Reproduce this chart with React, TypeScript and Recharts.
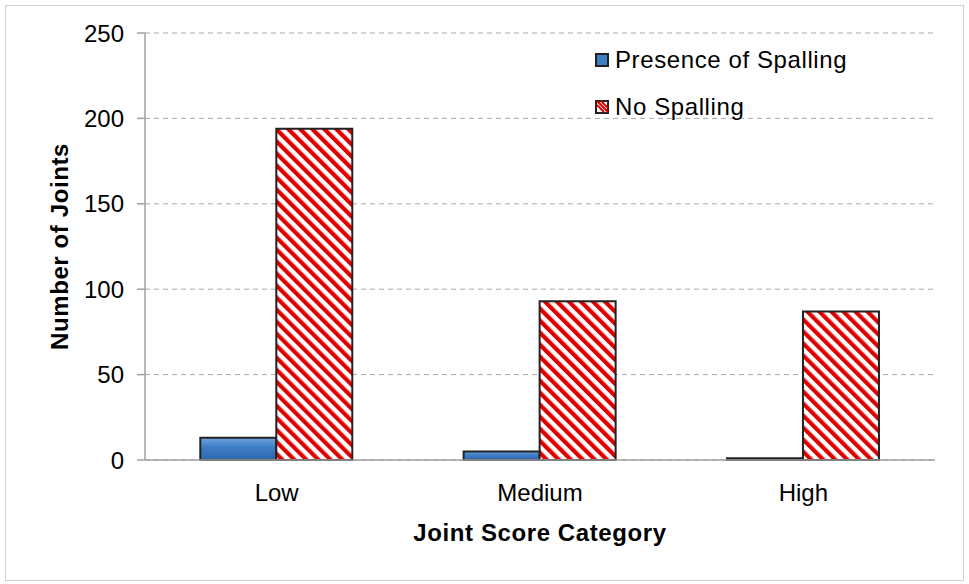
import React from 'react';
import { BarChart, Bar, XAxis, YAxis, CartesianGrid, Label } from 'recharts';

const categories = ['Low', 'Medium', 'High'];
const spalling = [13, 5, 1];
const noSpalling = [194, 93, 87];
const yTicks = [0, 50, 100, 150, 200, 250];

const data = categories.map((c, i) => ({
  name: c,
  spalling: spalling[i],
  noSpalling: noSpalling[i],
}));

const FONT = '"Liberation Sans", Arial, sans-serif';

const LegendBox: React.FC = () => (
  <div
    style={{
      position: 'absolute',
      left: 595,
      top: 36,
      fontFamily: FONT,
      fontSize: 24,
      color: '#000',
      lineHeight: '47px',
    }}
  >
    {[
      { label: 'Presence of Spalling', blue: true },
      { label: 'No Spalling', blue: false },
    ].map((it) => (
      <div key={it.label} style={{ display: 'flex', alignItems: 'center' }}>
        <svg width={14} height={14} style={{ marginRight: 6 }}>
          <rect x={1} y={1} width={12} height={12} fill={it.blue ? '#3f7fc6' : '#fff'} stroke="#222" strokeWidth={2} />
          {!it.blue && (
            <path d="M2 5 L9 12 M2 1 L13 12 M6 1 L13 8" stroke="#d00" strokeWidth={2} />
          )}
        </svg>
        <span style={{ letterSpacing: 0.6 }}>{it.label}</span>
      </div>
    ))}
  </div>
);

export default function App() {
  return (
    <div style={{ position: 'fixed', left: 0, top: 0, width: 969, height: 584, background: '#fff' }}>
      <div
        style={{
          position: 'absolute',
          left: 5,
          top: 5,
          width: 957,
          height: 574,
          border: '1px solid #cfcfcf',
        }}
      />
      <BarChart
        width={969}
        height={584}
        data={data}
        margin={{ top: 33, right: 34, left: 85, bottom: 94 }}
        barGap={0}
        barCategoryGap="21%"
      >
        <defs>
          <linearGradient id="blueGrad" x1="0" y1="0" x2="0" y2="1">
            <stop offset="0%" stopColor="#6fa3e0" />
            <stop offset="40%" stopColor="#3f7fc6" />
            <stop offset="100%" stopColor="#2d66ad" />
          </linearGradient>
          <pattern
            id="stripes"
            patternUnits="userSpaceOnUse"
            width={8.5}
            height={8.5}
            patternTransform="rotate(-45)"
          >
            <rect width={8.5} height={8.5} fill="#fff" />
            <rect width={4.2} height={8.5} fill="#e00000" />
          </pattern>
        </defs>
        <CartesianGrid vertical={false} stroke="#a8a8a8" strokeDasharray="5 4" />
        <XAxis
          dataKey="name"
          axisLine={{ stroke: '#a0a0a0', strokeWidth: 1.5 }}
          tickLine={false}
          tickMargin={18}
          tick={{ fill: '#000', fontSize: 24, fontFamily: FONT }}
        >
          <Label
            value="Joint Score Category"
            position="bottom"
            offset={34}
            style={{ fill: '#000', fontSize: 24, fontWeight: 'bold', fontFamily: FONT, letterSpacing: 0.6 }}
          />
        </XAxis>
        <YAxis
          width={60}
          domain={[0, 250]}
          ticks={yTicks}
          interval={0}
          axisLine={{ stroke: '#a0a0a0', strokeWidth: 1.5 }}
          tickLine={{ stroke: '#a0a0a0', strokeWidth: 1.5 }}
          tickSize={8}
          tickMargin={13}
          tick={{ fill: '#000', fontSize: 24, fontFamily: FONT }}
        >
          <Label
            value="Number of Joints"
            angle={-90}
            position="insideLeft"
            offset={-26}
            style={{ textAnchor: 'middle', fill: '#000', fontSize: 24, fontWeight: 'bold', fontFamily: FONT, letterSpacing: 0.6 }}
          />
        </YAxis>
        <Bar dataKey="spalling" fill="url(#blueGrad)" stroke="#222" strokeWidth={2} isAnimationActive={false} />
        <Bar dataKey="noSpalling" fill="url(#stripes)" stroke="#222" strokeWidth={2} isAnimationActive={false} />
      </BarChart>
      <LegendBox />
    </div>
  );
}
